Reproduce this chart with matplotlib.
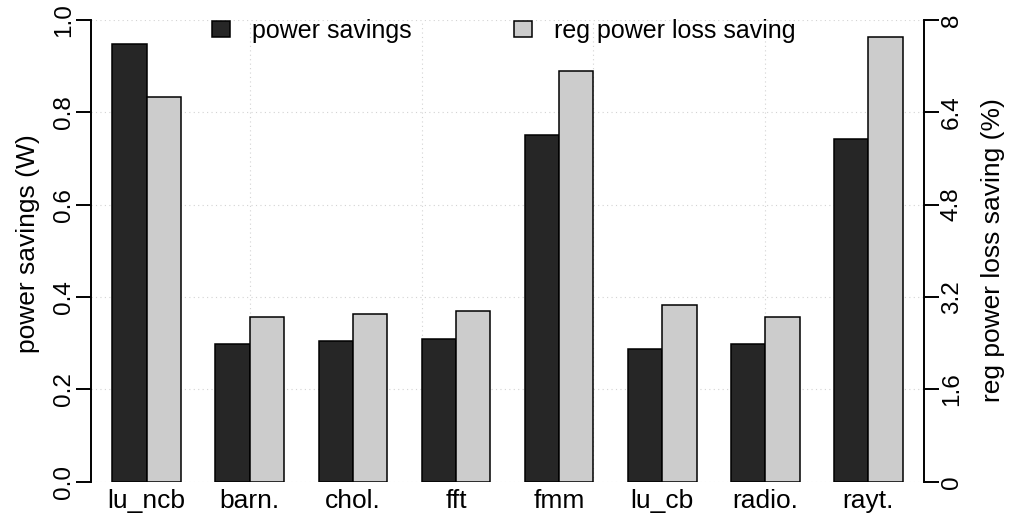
import numpy as np
import matplotlib
matplotlib.use('Agg')
import matplotlib.pyplot as plt

plt.rcParams['font.family'] = ['Liberation Sans', 'DejaVu Sans']

# Values
benchmarks = ['lu_ncb', 'barn.', 'chol.', 'fft', 'fmm', 'lu_cb', 'radio.', 'rayt.']
power_savings = [0.948, 0.298, 0.304, 0.310, 0.751, 0.287, 0.298, 0.742]   # W
reg_loss_saving = [6.67, 2.85, 2.91, 2.96, 7.11, 3.07, 2.85, 7.71]          # %
left_ticks = [0.0, 0.2, 0.4, 0.6, 0.8, 1.0]
right_ticks = [0, 1.6, 3.2, 4.8, 6.4, 8]
right_ticklabels = ['0', '1.6', '3.2', '4.8', '6.4', '8']

dark = '#262626'
light = '#cccccc'

fig = plt.figure(figsize=(10.11, 5.25), dpi=100)
ax = fig.add_axes([90.7 / 1011, 1 - 481.7 / 525, (924 - 90.7) / 1011, (481.7 - 20) / 525])
ax2 = ax.twinx()

# R style barplot positions: each group = 2 bars + 1 space
n = len(benchmarks)
grp = np.arange(n) * 3
x_dark = grp + 1.5
x_light = grp + 2.5

# grid (dotted, lightgray)
for gx in [5, 10, 15, 20]:
    ax.axvline(gx, color='#d3d3d3', lw=0.8, ls=(0, (1, 3)), zorder=0)
for gy in left_ticks:
    ax.axhline(gy, color='#d3d3d3', lw=0.8, ls=(0, (1, 3)), zorder=0)

b1 = ax.bar(x_dark, power_savings, width=1.0, color=dark, edgecolor='black',
            linewidth=1.1, zorder=2, label='power savings')
b2 = ax2.bar(x_light, reg_loss_saving, width=1.0, color=light, edgecolor='black',
             linewidth=1.1, zorder=2, label='reg power loss saving')

ax.set_xlim(0.37, 24.62)
ax.set_ylim(0, 1)
ax2.set_ylim(0, 8)

ax.set_xticks(grp + 2)
ax.set_xticklabels(benchmarks, fontsize=19)
ax.tick_params(axis='x', length=0, pad=5.5)

ax.set_yticks(left_ticks)
ax.set_yticklabels(['%.1f' % t for t in left_ticks], fontsize=17.5, rotation=90, va='center')
ax.tick_params(axis='y', length=11, width=1.4, pad=0.5)

ax2.set_yticks(right_ticks)
ax2.set_yticklabels(right_ticklabels, fontsize=17.5, rotation=90, va='center')
ax2.tick_params(axis='y', length=11, width=1.4, pad=1)

for a in (ax, ax2):
    a.spines['top'].set_visible(False)
    a.spines['bottom'].set_visible(False)
    a.spines['left'].set_linewidth(1.4)
    a.spines['right'].set_linewidth(1.4)
    a.patch.set_visible(False)
ax2.spines['left'].set_visible(False)
ax.spines['right'].set_visible(False)

fig.text(28 / 1011, 1 - 244 / 525, 'power savings (W)', rotation=90,
         ha='center', va='center', fontsize=19)
fig.text(993 / 1011, 1 - 250 / 525, 'reg power loss saving (%)', rotation=90,
         ha='center', va='center', fontsize=19)

leg = ax2.legend([b1, b2], ['power savings', 'reg power loss saving'], ncol=2,
                 loc='center left', bbox_to_anchor=(211.7 / 1011, 1 - 30.8 / 525),
                 bbox_transform=fig.transFigure, frameon=False, fontsize=18,
                 borderpad=0, borderaxespad=0, handlelength=0.73, handleheight=0.6,
                 handletextpad=0.87, columnspacing=4.1)

fig.savefig('out.png', dpi=100)
